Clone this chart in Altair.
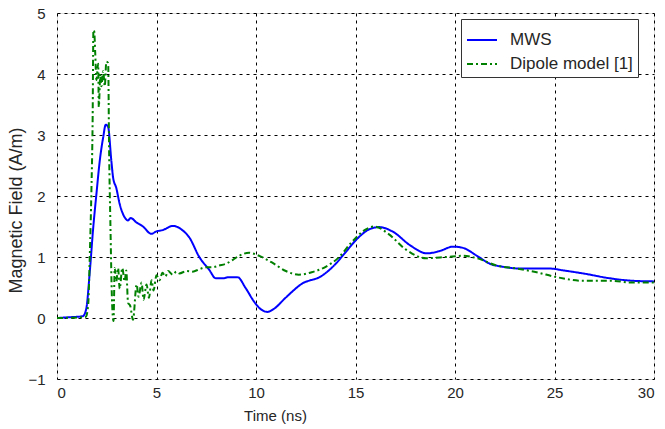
import altair as alt
import pandas as pd

# MWS series
mws_t = [0, 0.5, 1.0, 1.3, 1.47, 1.65, 1.82, 1.98, 2.15, 2.32, 2.45, 2.57, 2.73, 2.82,
         2.98, 3.15, 3.4, 3.57, 3.7, 3.98, 4.32, 4.74, 5.0, 5.3, 5.82, 6.3, 6.65, 7.15,
         7.65, 7.98, 8.32, 8.65, 9.07, 9.48, 9.9, 10.15, 10.57, 10.9, 11.48, 12.3, 13.3,
         13.98, 14.48, 15.15, 15.73, 16.2, 16.9, 17.75, 18.6, 19.25, 19.9, 20.4, 21.1,
         21.75, 22.4, 23.4, 24.8, 25.45, 26.45, 27.8, 28.95, 30]
mws_v = [0.0, 0.01, 0.02, 0.03, 0.15, 0.77, 1.48, 2.03, 2.58, 2.96, 3.17, 3.13, 2.58, 2.3,
         2.13, 1.87, 1.65, 1.6, 1.64, 1.57, 1.5, 1.38, 1.42, 1.44, 1.51, 1.44, 1.32, 1.0,
         0.79, 0.65, 0.65, 0.67, 0.67, 0.49, 0.27, 0.17, 0.1, 0.15, 0.33, 0.56, 0.69,
         0.88, 1.07, 1.32, 1.46, 1.49, 1.41, 1.19, 1.06, 1.1, 1.17, 1.15, 1.02,
         0.89, 0.84, 0.81, 0.81, 0.78, 0.73, 0.65, 0.61, 0.6]

# Dipole model series
dip_t = [0, 1.0, 1.45, 1.57, 1.65, 1.73, 1.79, 1.83, 1.87, 1.92, 1.98, 2.07, 2.1, 2.18,
         2.23, 2.32, 2.4, 2.48, 2.57, 2.62, 2.68, 2.77, 2.84, 2.9, 2.98, 3.07, 3.15, 3.28,
         3.4, 3.48, 3.57, 3.68, 3.82, 4.0, 4.1, 4.25, 4.35, 4.5, 4.62, 4.75, 4.85, 5.0,
         5.15, 5.3, 5.45, 5.58, 5.82, 6.0, 6.15, 6.5, 6.82, 7.15, 7.48, 7.8, 8.15, 8.5,
         8.82, 9.15, 9.65, 10.15, 10.8, 11.5, 12.15, 12.8, 13.5, 14.15, 14.8, 15.5,
         15.95, 16.65, 17.5, 18.55, 19.55, 20.4, 21.1, 22.1, 23.1, 24.1, 25.1, 26.45,
         27.8, 28.95, 30]
dip_v = [0.0, 0.01, 0.02, 0.23, 1.05, 2.1, 3.23, 4.72, 4.7, 4.35, 3.9, 4.17, 3.46, 4.0,
         3.8, 4.05, 3.8, 4.2, 4.18, 2.7, 1.6, 0.23, -0.05, 0.82, 0.6, 0.82, 0.48, 0.82,
         0.6, 0.78, 0.25, 0.2, -0.03, 0.55, 0.35, 0.58, 0.3, 0.55, 0.33, 0.62, 0.45, 0.7,
         0.62, 0.74, 0.68, 0.77, 0.71, 0.76, 0.73, 0.77, 0.76, 0.8, 0.83, 0.83, 0.86, 0.89,
         0.95, 1.02, 1.07, 1.02, 0.91, 0.77, 0.71, 0.75, 0.84, 0.99, 1.24, 1.45,
         1.5, 1.38, 1.13, 0.98, 1.0, 1.02, 0.98, 0.86, 0.81, 0.75, 0.67, 0.61,
         0.61, 0.58, 0.58]

series_names = ["MWS", "Dipole model [1]"]
series_colors = ["#0000ff", "#008000"]
x_ticks = [0, 5, 10, 15, 20, 25, 30]
y_ticks = [-1, 0, 1, 2, 3, 4, 5]

df = pd.concat([
    pd.DataFrame({"t": mws_t, "v": mws_v, "series": series_names[0], "idx": range(len(mws_t))}),
    pd.DataFrame({"t": dip_t, "v": dip_v, "series": series_names[1], "idx": range(len(dip_t))}),
])

FONT = "Liberation Sans, Arial, sans-serif"
TXT = "#262626"

common_axis = dict(domain=False, ticks=False, grid=True, gridColor="#000000",
                   gridDash=[3, 4], gridOpacity=1, gridWidth=1,
                   labelFont=FONT, titleFont=FONT, labelColor=TXT, titleColor=TXT,
                   titleFontWeight="normal")

chart = alt.Chart(df).mark_line(strokeWidth=2, interpolate="monotone").encode(
    x=alt.X("t:Q", scale=alt.Scale(domain=[0, 30], nice=False),
            axis=alt.Axis(title="Time (ns)", values=x_ticks, titleX=218, titleY=36,
                          titleBaseline="middle", titleAlign="center",
                          labelPadding=6, labelFontSize=15, titleFontSize=15, **common_axis)),
    y=alt.Y("v:Q", scale=alt.Scale(domain=[-1, 5], nice=False),
            axis=alt.Axis(title="Magnetic Field (A/m)", values=y_ticks, titleX=-41, titleY=197,
                          titleAngle=270, titleBaseline="middle", titleAlign="center",
                          labelPadding=12, labelFontSize=15, titleFontSize=18, **common_axis)),
    color=alt.Color("series:N", title=None,
                    scale=alt.Scale(domain=series_names, range=series_colors),
                    legend=alt.Legend(orient="none", legendX=404, legendY=6,
                                      symbolType="stroke", symbolSize=900, symbolStrokeWidth=2,
                                      labelFontSize=17, labelOffset=12, rowPadding=-4,
                                      padding=5, fillColor="white", strokeColor="#333333",
                                      labelFont=FONT, labelColor=TXT)),
    strokeDash=alt.StrokeDash("series:N", title=None,
                              scale=alt.Scale(domain=series_names, range=[[1, 0], [6, 3, 2, 3]])),
    order="idx:Q",
).properties(
    width=597, height=366,
    autosize=alt.AutoSizeParams(type="none"),
    padding={"left": 57, "top": 13, "right": 11, "bottom": 50},
).configure_view(
    stroke="#000000", strokeWidth=1
).configure(background="white")

chart.save("out.html", embed_options={"renderer": "svg", "actions": False})
